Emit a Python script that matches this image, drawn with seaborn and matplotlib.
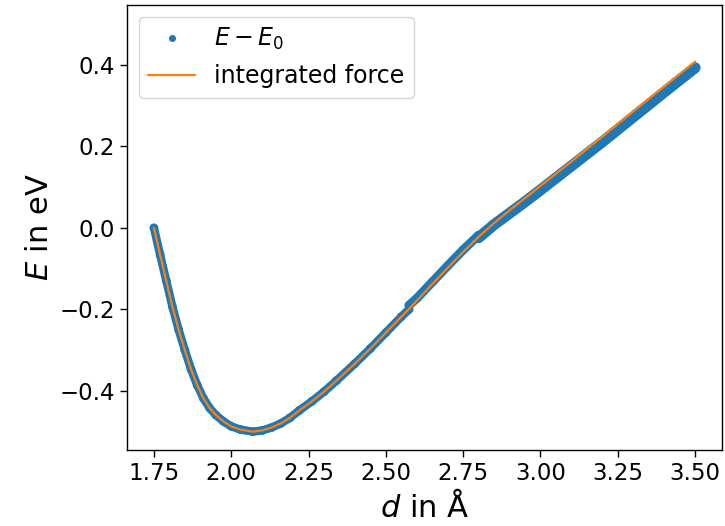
import matplotlib
matplotlib.use("Agg")
import matplotlib.pyplot as plt
from matplotlib.lines import Line2D
import seaborn as sns
import pandas as pd

# integrated force (orange line)
d_force = [1.75, 1.77, 1.79, 1.81, 1.83, 1.85, 1.87, 1.89, 1.91, 1.93, 1.95, 1.975,
           2.00, 2.03, 2.07, 2.10, 2.13, 2.16, 2.19, 2.22, 2.26, 2.30, 2.34, 2.40,
           2.45, 2.50, 2.55, 2.58, 2.65, 2.70, 2.75, 2.80, 2.85, 2.90, 2.95, 3.00,
           3.10, 3.20, 3.30, 3.40, 3.50]
e_force = [0.000, -0.066, -0.130, -0.194, -0.250, -0.300, -0.347, -0.386, -0.418,
           -0.442, -0.459, -0.475, -0.487, -0.495, -0.500, -0.497, -0.490, -0.480,
           -0.466, -0.448, -0.426, -0.402, -0.375, -0.333, -0.296, -0.257, -0.218,
           -0.195, -0.138, -0.098, -0.059, -0.022, 0.012, 0.043, 0.073, 0.103,
           0.163, 0.224, 0.286, 0.347, 0.408]

# E - E0 (blue points), three runs
d_run1 = [1.75, 1.77, 1.79, 1.81, 1.83, 1.85, 1.87, 1.89, 1.91, 1.93, 1.95, 1.975,
          2.00, 2.03, 2.07, 2.10, 2.13, 2.16, 2.19, 2.22, 2.26, 2.30, 2.34, 2.40,
          2.45, 2.50, 2.55, 2.575]
e_run1 = [0.000, -0.066, -0.130, -0.194, -0.250, -0.300, -0.347, -0.386, -0.418,
          -0.442, -0.459, -0.475, -0.487, -0.495, -0.500, -0.497, -0.490, -0.480,
          -0.466, -0.448, -0.426, -0.402, -0.375, -0.333, -0.296, -0.257, -0.218,
          -0.200]
d_run2 = [2.575, 2.60, 2.65, 2.70, 2.75, 2.80]
e_run2 = [-0.190, -0.173, -0.133, -0.093, -0.054, -0.018]
d_run3 = [2.80, 2.85, 2.90, 2.95, 3.00, 3.10, 3.20, 3.30, 3.40, 3.50]
e_run3 = [-0.024, 0.008, 0.036, 0.064, 0.093, 0.152, 0.211, 0.272, 0.333, 0.393]

x_ticks = [1.75, 2.00, 2.25, 2.50, 2.75, 3.00, 3.25, 3.50]
x_tick_labels = ["1.75", "2.00", "2.25", "2.50", "2.75", "3.00", "3.25", "3.50"]
y_ticks = [-0.4, -0.2, 0.0, 0.2, 0.4]
y_tick_labels = ["\u22120.4", "\u22120.2", "0.0", "0.2", "0.4"]

blue = "#1f77b4"
orange = "#ff7f0e"

sns.set_theme(style="ticks", rc={"text.color": "black", "axes.labelcolor": "black",
                                 "xtick.color": "black", "ytick.color": "black",
                                 "axes.edgecolor": "black"})
plt.rcParams["font.family"] = ["DejaVu Sans"]
plt.rcParams["mathtext.fontset"] = "dejavusans"

fig = plt.figure(figsize=(7.25, 5.26), dpi=100)
ax = fig.add_axes([0.175, 0.1445, 0.821, 0.846])

for dx, ey, lw in [(d_run1, e_run1, 6.0), (d_run2, e_run2, 6.5), (d_run3, e_run3, 8.0)]:
    df = pd.DataFrame({"d": dx, "E": ey})
    sns.lineplot(data=df, x="d", y="E", sort=False, color=blue, linewidth=lw,
                 solid_capstyle="round", ax=ax, legend=False)
    sns.scatterplot(data=df, x="d", y="E", color=blue, s=40, edgecolor="none",
                    ax=ax, legend=False)

dff = pd.DataFrame({"d": d_force, "E": e_force})
sns.lineplot(data=dff, x="d", y="E", sort=False, color=orange, linewidth=1.6,
             ax=ax, legend=False)

ax.set_xlim(1.6625, 3.5875)
ax.set_ylim(-0.545, 0.547)
ax.set_xticks(x_ticks)
ax.set_xticklabels(x_tick_labels)
ax.set_yticks(y_ticks)
ax.set_yticklabels(y_tick_labels)
ax.tick_params(labelsize=16.5, length=5, width=1, color="black", labelcolor="black",
               direction="out")
for sp in ax.spines.values():
    sp.set_color("black")
    sp.set_linewidth(1.0)
ax.set_xlabel("$d$ in Å", fontsize=22, color="black")
ax.set_ylabel("$E$ in eV", fontsize=22, color="black")

handles = [Line2D([], [], marker=".", linestyle="none", color=blue, markersize=8),
           Line2D([], [], color=orange, linewidth=1.6)]
leg = ax.legend(handles, ["$E - E_0$", "integrated force"], loc="upper left",
                fontsize=17, frameon=True)
for t in leg.get_texts():
    t.set_color("black")

fig.savefig("out.png", dpi=100)
